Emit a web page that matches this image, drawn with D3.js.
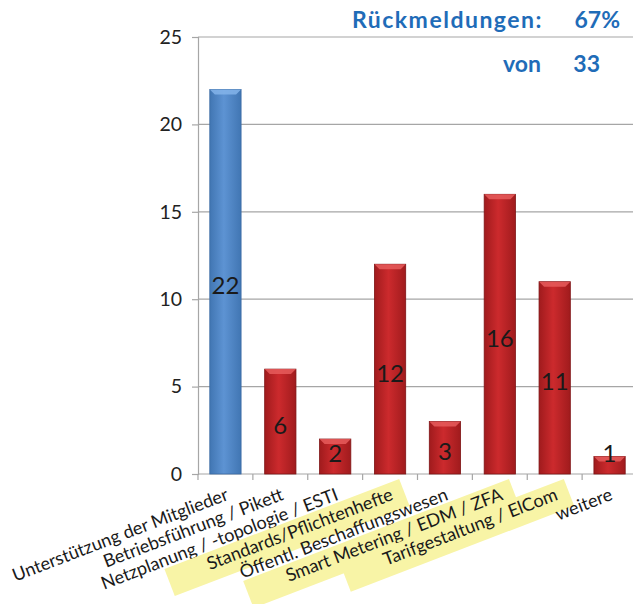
<!DOCTYPE html>
<meta charset="utf-8">
<style>
body { margin: 0; background: #fff; font-family: Lato, "Open Sans", sans-serif; }
.barlabel { font-size: 24px; fill: #1a1a1a; font-family: Lato, sans-serif; }
.cat { font-size: 18px; fill: #1a1a1a; font-family: Lato, sans-serif; }
.head { font-size: 23px; font-weight: bold; fill: #1f6cb8; font-family: Lato, sans-serif; }
</style>
<body>
<script src="https://cdnjs.cloudflare.com/ajax/libs/d3/7.8.5/d3.min.js"></script>
<script>

var categories = [
  "Unterstützung der Mitglieder",
  "Betriebsführung / Pikett",
  "Netzplanung / -topologie / ESTI",
  "Standards/Pflichtenhefte",
  "Öffentl. Beschaffungswesen",
  "Smart Metering / EDM / ZFA",
  "Tarifgestaltung / ElCom",
  "weitere"
];
var values = [22, 6, 2, 12, 3, 16, 11, 1];
var highlighted = [false, false, false, true, false, true, true, false];
var yTicks = [0, 5, 10, 15, 20, 25];

var width = 633, height = 604;
var plotLeft = 198, plotRight = 637, plotTop = 37, plotBottom = 474;

var svg = d3.select("body").append("svg")
    .attr("width", width)
    .attr("height", height);

var defs = svg.append("defs");

function barGradient(id, edge, mid) {
  var g = defs.append("linearGradient").attr("id", id)
      .attr("x1", 0).attr("x2", 1).attr("y1", 0).attr("y2", 0);
  g.append("stop").attr("offset", "0%").attr("stop-color", edge);
  g.append("stop").attr("offset", "45%").attr("stop-color", mid);
  g.append("stop").attr("offset", "100%").attr("stop-color", edge);
}
barGradient("red", "#a01b1d", "#cc2a2d");
barGradient("blue", "#4176b3", "#5d93d3");

var x = d3.scaleBand()
    .domain(categories)
    .range([plotLeft, plotRight])
    .paddingInner(0.43)
    .paddingOuter(0.215);

var y = d3.scaleLinear()
    .domain([0, 25])
    .range([plotBottom, plotTop]);

// gridlines
svg.append("g")
    .selectAll("line")
    .data(yTicks.slice(1))
  .enter().append("line")
    .attr("x1", plotLeft).attr("x2", width)
    .attr("y1", function(d) { return y(d); })
    .attr("y2", function(d) { return y(d); })
    .attr("stroke", "#a6a6a6")
    .attr("stroke-width", 1.2);

// y axis
var yAxis = svg.append("g")
    .attr("transform", "translate(" + plotLeft + ",0)")
    .call(d3.axisLeft(y).tickValues(yTicks).tickSize(6).tickPadding(10));
yAxis.select(".domain").attr("stroke", "#a6a6a6").attr("stroke-width", 1.2);
yAxis.selectAll(".tick line").attr("stroke", "#a6a6a6").attr("stroke-width", 1.2);
yAxis.selectAll(".tick text").attr("font-family", "Lato, sans-serif").attr("font-size", 19.5).attr("fill", "#222");

// x axis
var xAxis = svg.append("g")
    .attr("transform", "translate(0," + plotBottom + ")");
xAxis.append("line")
    .attr("x1", plotLeft).attr("x2", width)
    .attr("stroke", "#a6a6a6").attr("stroke-width", 1.2);
var step = x.step();
xAxis.selectAll(".xt")
    .data(d3.range(categories.length + 1))
  .enter().append("line")
    .attr("x1", function(i) { return plotLeft + i * step; })
    .attr("x2", function(i) { return plotLeft + i * step; })
    .attr("y1", 0).attr("y2", 6)
    .attr("stroke", "#a6a6a6").attr("stroke-width", 1.2);

// bars
var bars = svg.append("g").selectAll("g")
    .data(values)
  .enter().append("g");

bars.append("rect")
    .attr("x", function(d, i) { return x(categories[i]); })
    .attr("y", function(d) { return y(d); })
    .attr("width", x.bandwidth())
    .attr("height", function(d) { return y(0) - y(d); })
    .attr("fill", function(d, i) { return i == 0 ? "url(#blue)" : "url(#red)"; })
    .attr("stroke", function(d, i) { return i == 0 ? "#3a6aa3" : "#7e1416"; })
    .attr("stroke-width", 0.8);

// top bevel
bars.append("path")
    .attr("d", function(d, i) {
      var x0 = x(categories[i]), w = x.bandwidth(), y0 = y(d), b = 5;
      return "M" + x0 + "," + y0 + "h" + w + "l" + (-b) + "," + b + "h" + (-(w - 2 * b)) + "z";
    })
    .attr("fill", function(d, i) { return i == 0 ? "#84b4ea" : "#e65c5c"; })
    .attr("opacity", 0.85);

bars.append("text")
    .attr("class", "barlabel")
    .attr("x", function(d, i) { return x(categories[i]) + x.bandwidth() / 2; })
    .attr("y", function(d) { return Math.min((y(d) + y(0)) / 2 + 3, y(0) - 22); })
    .attr("text-anchor", "middle")
    .attr("dominant-baseline", "central")
    .text(function(d) { return d; });

// category labels
var angle = -21;
var cats = svg.append("g").selectAll("g")
    .data(categories)
  .enter().append("g")
    .attr("transform", function(d) {
      return "translate(" + (x(d) + x.bandwidth() / 2 - 1) + "," + (plotBottom + 12) + ") rotate(" + angle + ")";
    });

cats.append("text")
    .attr("class", "cat")
    .attr("text-anchor", "end")
    .attr("dy", "0.8em")
    .text(function(d) { return d; });

cats.each(function(d, i) {
  if (!highlighted[i]) return;
  var g = d3.select(this);
  var w = g.select("text").node().getComputedTextLength();
  g.insert("rect", "text")
    .attr("x", -w - 42)
    .attr("y", -3)
    .attr("width", w + 54)
    .attr("height", 29)
    .attr("fill", "#f8f4a6");
});

// header
var head = svg.append("g");
head.append("text").attr("class", "head")
    .attr("x", 543).attr("y", 28).attr("text-anchor", "end")
    .attr("letter-spacing", 1.5).text("Rückmeldungen:");
head.append("text").attr("class", "head")
    .attr("x", 620).attr("y", 28).attr("text-anchor", "end").text("67%");
head.append("text").attr("class", "head")
    .attr("x", 541).attr("y", 72).attr("text-anchor", "end").text("von");
head.append("text").attr("class", "head")
    .attr("x", 600).attr("y", 72).attr("text-anchor", "end").text("33");

</script>
